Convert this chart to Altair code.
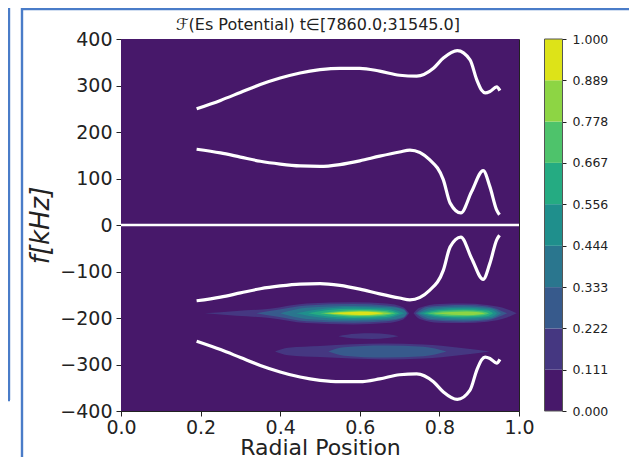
import altair as alt
import pandas as pd

R_UP = [.19,.25,.30,.35,.40,.45,.50,.55,.60,.65,.70,.743,.785,.81,.845,.877,.894,.906,.915,.927,.944,.952]
F_UP = [250,268,285,302,316,327,334,337,337,331,322,320,337,359,375,355,312,290,284,287,297,289]
R_LO = [.19,.25,.30,.35,.40,.45,.50,.55,.60,.65,.70,.726,.776,.81,.827,.854,.881,.91,.927,.944,.951]
F_LO = [163,155,146,137,131,127,126,130,138,148,157,161,140,97,47,26,72,117,82,32,22]

LEVELS = [0,.111,.222,.333,.444,.556,.667,.778,.889,1.0]
COLORS = ["#47186a","#453781","#375a8c","#2a768e","#1f8f8c","#25ab82","#4ec36b","#8dd544","#dde318"]
TITLE = "\u2131(Es Potential) t\u2208[7860.0;31545.0]"

BLOB_LEFT = [
 (1,[.211,.29,.374,.466,.584,.667,.709,.724],[0,5,10,21,24,21,13,0]),
 (2,[.34,.39,.466,.584,.667,.709,.72],[0,7,17,20,17,10,0]),
 (3,[.40,.466,.584,.667,.71,.718],[0,12,16,14,8,0]),
 (4,[.44,.50,.584,.667,.712],[0,9,13,11,0]),
 (5,[.47,.52,.584,.667,.70],[0,7,10,8,0]),
 (6,[.50,.55,.60,.66,.69],[0,5,7,5,0]),
 (7,[.51,.56,.60,.65,.68],[0,3.5,5,3.5,0]),
 (8,[.525,.58,.62,.66],[0,3,3.5,0]),
]
BLOB_RIGHT = [
 (1,[.735,.75,.80,.86,.92,.97,.994],[0,12,20,21,18,9,0]),
 (2,[.74,.77,.86,.92,.97],[0,14,18,15,0]),
 (3,[.745,.78,.86,.93,.955],[0,12,15,11,0]),
 (4,[.75,.79,.86,.93,.945],[0,9,12,8,0]),
 (5,[.76,.80,.86,.92,.935],[0,7,9,6,0]),
 (6,[.77,.81,.86,.91,.925],[0,5,6.5,4,0]),
 (7,[.785,.83,.87,.90,.915],[0,3,4,2.5,0]),
]
BAND_LOW = [
 (1,[.387,.42,.50,.66,.76,.85,.927],[0,8,12,17,15,8,0]),
 (2,[.521,.56,.66,.76,.818],[0,9,13,10,0]),
]
BAND_SMALL = [(1,[.546,.59,.63,.67,.697],[0,5,6,4,0])]
BLOBS = [(-190,BLOB_LEFT),(-190,BLOB_RIGHT),(-272,BAND_LOW),(-239,BAND_SMALL)]

rows = []
gid = 0
for center, blob in BLOBS:
    for level, rs, hs in blob:
        gid += 1
        for r, h in zip(rs, hs):
            rows.append({"r": r, "f1": center - h, "f2": center + h, "level": level, "g": f"{gid:02d}"})
blob_df = pd.DataFrame(rows)

curves = []
for name, rs, fs, sign in [("a",R_UP,F_UP,1),("b",R_LO,F_LO,1),("c",R_LO,F_LO,-1),("d",R_UP,F_UP,-1)]:
    for r, f in zip(rs, fs):
        curves.append({"r": r, "f": sign*f, "c": name})
curve_df = pd.DataFrame(curves)

x_scale = alt.Scale(domain=[0,1], nice=False)
y_scale = alt.Scale(domain=[-400,400], nice=False)
color_scale = alt.Scale(domain=list(range(9)), range=COLORS)
INK = "#222222"
FONT = "DejaVu Sans"

bg = alt.Chart(pd.DataFrame({"a":[0],"b":[1],"c":[-400],"d":[400]})).mark_rect(color=COLORS[0]).encode(
    x=alt.X("a:Q", scale=x_scale, axis=alt.Axis(
        title="Radial Position", values=[0,.2,.4,.6,.8,1.0], format=".1f", labelFontSize=19,
        titleFontSize=22, labelFont=FONT, titleFont=FONT, titleFontWeight="normal", grid=False,
        tickSize=5, tickColor="#222", domainColor="#222", labelColor=INK, titleColor=INK, labelPadding=2,
        titleY=43, titleBaseline="alphabetic", labelFlush=False)),
    x2="b:Q",
    y=alt.Y("c:Q", scale=y_scale, axis=alt.Axis(
        title="f[kHz]", values=[-400,-300,-200,-100,0,100,200,300,400], labelFontSize=19,
        titleFontSize=26, labelFont=FONT, titleFont=FONT, titleFontWeight="normal", titleFontStyle="italic", grid=False,
        tickSize=5, tickColor="#222", domainColor="#222", labelColor=INK, titleColor=INK, labelPadding=4, titlePadding=6,
        labelExpr="replace(datum.label, '-', '\u2212')", labelFlush=False)),
    y2="d:Q",
)
blobs = alt.Chart(blob_df).mark_area(interpolate="monotone", opacity=1).encode(
    x=alt.X("r:Q", scale=x_scale),
    y=alt.Y("f1:Q", scale=y_scale, axis=None),
    y2="f2:Q",
    color=alt.Color("level:O", scale=color_scale, legend=None),
    detail="g:N",
    order="level:Q",
)
zero = alt.Chart(pd.DataFrame({"f":[0]})).mark_rule(color="white", strokeWidth=2.5).encode(
    y=alt.Y("f:Q", scale=y_scale, axis=None))
lines = alt.Chart(curve_df).mark_line(color="white", strokeWidth=3.2, interpolate="monotone").encode(
    x=alt.X("r:Q", scale=x_scale), y=alt.Y("f:Q", scale=y_scale, axis=None), detail="c:N")

BLUE = "#4a7cc8"
def frame(x1, x2, y1, y2, color=BLUE, w=2.4):
    return alt.Chart(pd.DataFrame({"k":[0]})).mark_rule(color=color, strokeWidth=w).encode(
        x=alt.value(x1-121), x2=alt.value(x2-121), y=alt.value(y1-39), y2=alt.value(y2-39))
frames = [frame(9,9,8,400), frame(8,10,400,400), frame(22,22,8,457), frame(22,629,9,9)]

cb_df = pd.DataFrame({"lo":LEVELS[:-1], "hi":LEVELS[1:], "i":list(range(9))})
cb_scale = alt.Scale(domain=[0,1], nice=False)
cbar = alt.Chart(cb_df).mark_rect().encode(
    x=alt.value(423.5), x2=alt.value(441.5),
    y=alt.Y("lo:Q", scale=cb_scale, axis=alt.Axis(
        orient="right", offset=43, title=None, values=LEVELS, labelExpr="format(datum.value, '.3f')",
        labelFontSize=12.5, labelFont=FONT, labelColor=INK, tickSize=4, tickColor="#222", domainColor="#444",
        labelPadding=6, grid=False, labelFlush=False)),
    y2="hi:Q",
    color=alt.Color("i:O", scale=color_scale, legend=None),
)
cb_box = alt.Chart(pd.DataFrame({"lo":[0],"hi":[1]})).mark_rect(fillOpacity=0, stroke="#555", strokeWidth=1).encode(
    x=alt.value(423.5), x2=alt.value(441.5),
    y=alt.Y("lo:Q", scale=cb_scale, axis=None), y2="hi:Q")
title = alt.Chart(pd.DataFrame({"t":[TITLE]})).mark_text(fontSize=16, font=FONT, color=INK, align="center", baseline="middle").encode(
    x=alt.value(197), y=alt.value(-14), text="t:N")

chart = alt.layer(bg, blobs, zero, lines, cbar, cb_box, title, *frames).resolve_scale(y="independent", color="shared").properties(
    width=398, height=372,
    autosize=alt.AutoSizeParams(type="none"),
    padding={"left":113,"top":31,"right":110,"bottom":46},
    background="white",
).configure_view(stroke="#222", strokeWidth=1)

chart.save("out.html", embed_options={"renderer": "svg", "actions": False})
